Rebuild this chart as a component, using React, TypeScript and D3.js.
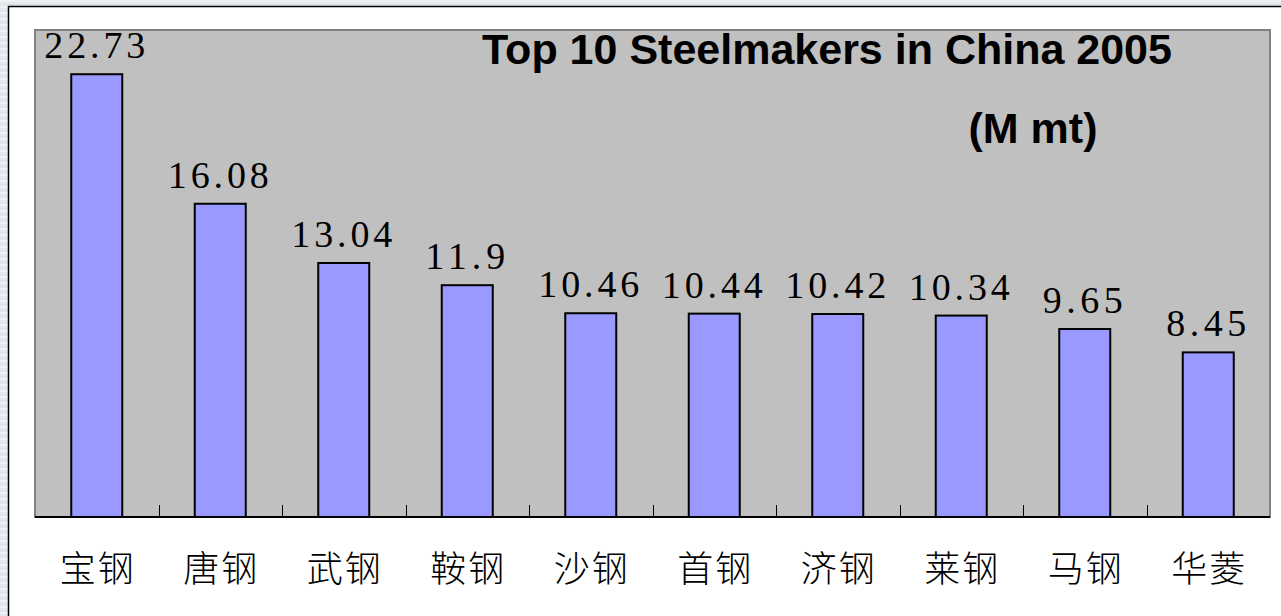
import React from "react";
import * as d3 from "d3";

const categories = ["宝钢", "唐钢", "武钢", "鞍钢", "沙钢", "首钢", "济钢", "莱钢", "马钢", "华菱"];
const values = [22.73, 16.08, 13.04, 11.9, 10.46, 10.44, 10.42, 10.34, 9.65, 8.45];
const labels = ["22.73", "16.08", "13.04", "11.9", "10.46", "10.44", "10.42", "10.34", "9.65", "8.45"];
const title = "Top 10 Steelmakers in China 2005";
const unit = "(M mt)";
const yMax = 25;

const W = 1281;
const H = 616;
const plot = { left: 35, right: 1270, top: 30, bottom: 517 };

export default function App() {
  const x = d3
    .scaleBand<string>()
    .domain(categories)
    .range([plot.left, plot.right])
    .paddingInner(0.587)
    .paddingOuter(0.2935);
  const y = d3.scaleLinear().domain([0, yMax]).range([plot.bottom, plot.top]);
  const step = x.step();
  const pitch = 20.8;

  return (
    <svg
      width={W}
      height={H}
      style={{ position: "absolute", left: 0, top: 0, display: "block" }}
    >
      <defs>
        <pattern id="tex" width="8" height="6" patternUnits="userSpaceOnUse">
          <rect width="8" height="6" fill="#e4e8ee" />
          <rect y="0" width="8" height="2" fill="#eef1f5" />
          <rect y="4" width="8" height="1" fill="#dde2e9" />
        </pattern>
      </defs>
      <rect x={0} y={0} width={W} height={H} fill="url(#tex)" />
      <rect x={8.5} y={6.5} width={W + 20} height={H + 20} fill="#ffffff" stroke="#000" strokeWidth={1.5} />
      <rect
        x={plot.left}
        y={plot.top}
        width={plot.right - plot.left}
        height={plot.bottom - plot.top}
        fill="#c0c0c0"
        stroke="#808080"
        strokeWidth={2}
      />
      {categories.slice(1).map((c, i) => {
        const tx = Math.round((x(c) as number) - (step - x.bandwidth()) / 2) + 0.5;
        return <line key={"t" + i} x1={tx} x2={tx} y1={plot.bottom} y2={plot.bottom - 12} stroke="#000" strokeWidth={1} />;
      })}
      {categories.map((c, i) => (
        <rect
          key={"b" + i}
          x={x(c)}
          y={y(values[i])}
          width={x.bandwidth()}
          height={plot.bottom - y(values[i])}
          fill="#9999ff"
          stroke="#000"
          strokeWidth={2}
        />
      ))}
      <line x1={plot.left} x2={plot.right} y1={plot.bottom} y2={plot.bottom} stroke="#000" strokeWidth={2} />
      {categories.map((c, i) => {
        const cx = (x(c) as number) + x.bandwidth() / 2 - 2;
        const s = labels[i];
        return (
          <text
            key={"v" + i}
            x={cx}
            y={y(values[i]) - 16}
            textAnchor="middle"
            fontFamily="'Liberation Serif', 'DejaVu Serif', serif"
            fontSize={38}
            textLength={s.length * pitch - 3}
            lengthAdjust="spacing"
            fill="#000"
          >
            {s}
          </text>
        );
      })}
      {categories.map((c, i) => (
        <text
          key={"c" + i}
          x={(x(c) as number) + x.bandwidth() / 2 + 1}
          y={582}
          textAnchor="middle"
          fontFamily="'Noto Sans CJK SC', sans-serif"
          fontWeight={300}
          fontSize={36}
          letterSpacing={2}
          fill="#000"
        >
          {c}
        </text>
      ))}
      <text
        x={827}
        y={64}
        textAnchor="middle"
        fontFamily="'Liberation Sans', Arial, sans-serif"
        fontWeight="bold"
        fontSize={43}
        fill="#000"
      >
        {title}
      </text>
      <text
        x={1033}
        y={143}
        textAnchor="middle"
        fontFamily="'Liberation Sans', Arial, sans-serif"
        fontWeight="bold"
        fontSize={43}
        fill="#000"
      >
        {unit}
      </text>
    </svg>
  );
}
